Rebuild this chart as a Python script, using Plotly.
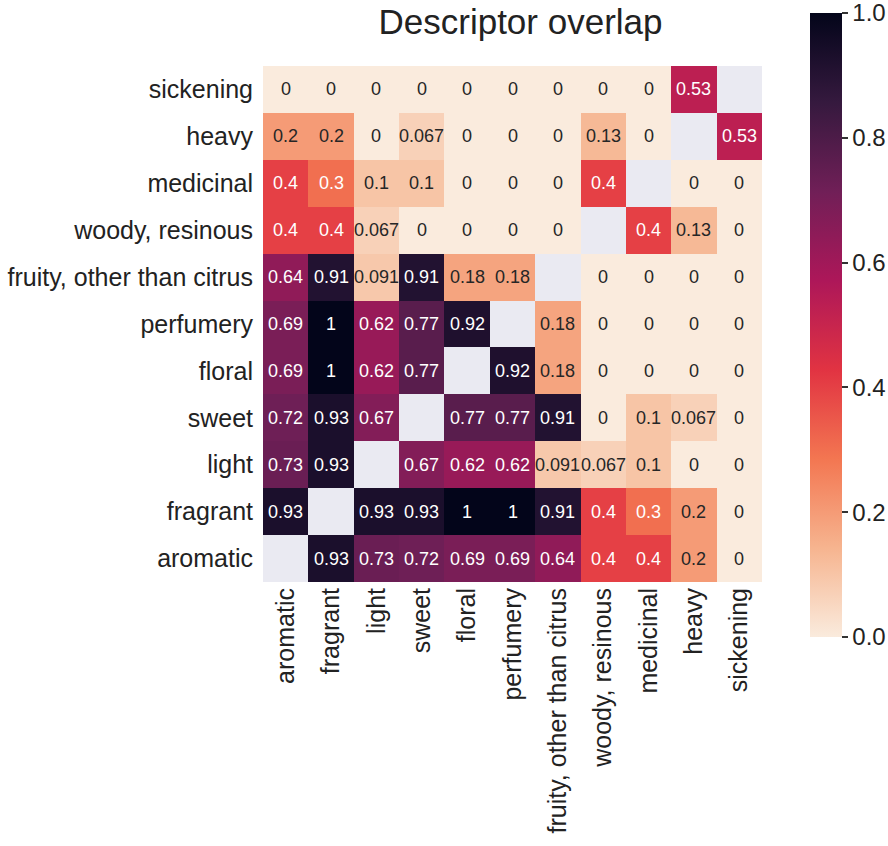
import plotly.graph_objects as go

labels = ["aromatic", "fragrant", "light", "sweet", "floral", "perfumery",
          "fruity, other than citrus", "woody, resinous", "medicinal", "heavy", "sickening"]

# rows listed bottom (aromatic) to top (sickening); columns in `labels` order
N = None
row_aromatic = [N, 0.93, 0.73, 0.72, 0.69, 0.69, 0.64, 0.4, 0.4, 0.2, 0]
row_fragrant = [0.93, N, 0.93, 0.93, 1, 1, 0.91, 0.4, 0.3, 0.2, 0]
row_light = [0.73, 0.93, N, 0.67, 0.62, 0.62, 0.091, 0.067, 0.1, 0, 0]
row_sweet = [0.72, 0.93, 0.67, N, 0.77, 0.77, 0.91, 0, 0.1, 0.067, 0]
row_floral = [0.69, 1, 0.62, 0.77, N, 0.92, 0.18, 0, 0, 0, 0]
row_perfumery = [0.69, 1, 0.62, 0.77, 0.92, N, 0.18, 0, 0, 0, 0]
row_fruity = [0.64, 0.91, 0.091, 0.91, 0.18, 0.18, N, 0, 0, 0, 0]
row_woody = [0.4, 0.4, 0.067, 0, 0, 0, 0, N, 0.4, 0.13, 0]
row_medicinal = [0.4, 0.3, 0.1, 0.1, 0, 0, 0, 0.4, N, 0, 0]
row_heavy = [0.2, 0.2, 0, 0.067, 0, 0, 0, 0.13, 0, N, 0.53]
row_sickening = [0, 0, 0, 0, 0, 0, 0, 0, 0, 0.53, N]

z = [row_aromatic, row_fragrant, row_light, row_sweet, row_floral, row_perfumery,
     row_fruity, row_woody, row_medicinal, row_heavy, row_sickening]

cbar_tickvals = [0, 0.2, 0.4, 0.6, 0.8, 1.0]
cbar_ticktext = ["0.0", "0.2", "0.4", "0.6", "0.8", "1.0"]

rocket_r = [
    [0.0, "#faebdd"], [1/7, "#f6b48f"], [2/7, "#f37651"], [3/7, "#e13342"],
    [4/7, "#ad1759"], [5/7, "#701f57"], [6/7, "#35193e"], [1.0, "#03051a"],
]

FONT = "Liberation Sans, Arial, sans-serif"

fig = go.Figure(go.Heatmap(
    z=z, x=labels, y=labels, zmin=0, zmax=1, colorscale=rocket_r,
    hoverongaps=False, xgap=0, ygap=0,
    colorbar=dict(
        x=(810 - 263) / 499, xanchor="left", xpad=0, ypad=0,
        y=(582 - 325) / 516, yanchor="middle", lenmode="pixels", len=624, thickness=32,
        outlinewidth=0, tickmode="array", tickvals=cbar_tickvals, ticktext=cbar_ticktext,
        ticklabeloverflow="allow",
        ticks="outside", ticklen=6, tickwidth=1.5, tickcolor="#333333",
        tickfont=dict(family=FONT, size=24, color="#222222"),
    ),
))

annotations = []
for i, row in enumerate(z):
    for j, v in enumerate(row):
        if v is None:
            continue
        annotations.append(dict(
            x=labels[j], y=labels[i], text=f"{v:g}", showarrow=False,
            font=dict(family=FONT, size=18, color="white" if v >= 0.3 else "#262626"),
        ))

fig.update_layout(
    width=888, height=846,
    margin=dict(l=263, r=126, t=66, b=264, autoexpand=False),
    paper_bgcolor="white", plot_bgcolor="#eaeaf2",
    title=dict(text="Descriptor overlap", x=0.5 + 8 / 499, xref="paper", y=1 - 22 / 846,
               yref="container", yanchor="middle", xanchor="center",
               font=dict(family=FONT, size=35, color="#222222")),
    annotations=annotations,
    xaxis=dict(showgrid=False, zeroline=False, tickangle=-90, ticks="",
               automargin=False,
               tickfont=dict(family=FONT, size=25, color="#222222"), showline=False),
    yaxis=dict(showgrid=False, zeroline=False, ticks="outside", ticklen=4,
               tickcolor="rgba(0,0,0,0)", automargin=False,
               tickfont=dict(family=FONT, size=25, color="#222222"), showline=False),
)

fig.write_html("out.html", config={"displayModeBar": False},
               post_script="document.body.style.margin='0';document.body.style.overflow='hidden';")
